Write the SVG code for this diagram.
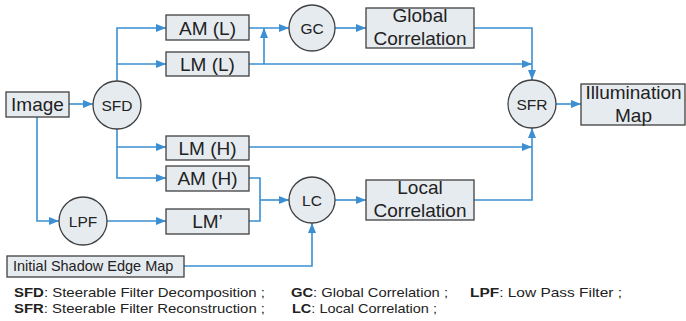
<svg xmlns="http://www.w3.org/2000/svg" width="686" height="321" viewBox="0 0 686 321">
  <style>
    .box { fill: #e6ebf0; stroke: #404040; stroke-width: 1.3; }
    .node { fill: #e6ebf0; stroke: #404040; stroke-width: 1.3; }
    .lbl { font-family: "Liberation Sans", Arial, sans-serif; font-size: 19px; fill: #222; text-anchor: middle; }
    .clbl { font-family: "Liberation Sans", Arial, sans-serif; font-size: 15.5px; fill: #222; text-anchor: middle; }
    .small { font-family: "Liberation Sans", Arial, sans-serif; font-size: 14.5px; fill: #222; }
    .leg { font-family: "Liberation Sans", Arial, sans-serif; font-size: 13px; fill: #222; }
    .leg .b { font-weight: bold; }
    .wire { fill: none; stroke: #3b8fd2; stroke-width: 1.6; }
  </style>
  <defs>
    <marker id="arrow" markerUnits="userSpaceOnUse" markerWidth="10" markerHeight="8" refX="10" refY="4" orient="auto">
      <path d="M0,0 L10,4 L0,8 z" fill="#3b8fd2"/>
    </marker>
  </defs>

  <!-- connectors -->
  <g id="connectors">
    <path class="wire" d="M69,104 H93" marker-end="url(#arrow)"/>
    <path class="wire" d="M117,81 V28 H166" marker-end="url(#arrow)"/>
    <path class="wire" d="M117,64 H166" marker-end="url(#arrow)"/>
    <path class="wire" d="M117,129 V178 H166" marker-end="url(#arrow)"/>
    <path class="wire" d="M117,147 H166" marker-end="url(#arrow)"/>
    <path class="wire" d="M249,28 H289" marker-end="url(#arrow)"/>
    <path class="wire" d="M249,64 H532" marker-end="url(#arrow)"/>
    <path class="wire" d="M264,64 V28" marker-end="url(#arrow)"/>
    <path class="wire" d="M335,28 H366" marker-end="url(#arrow)"/>
    <path class="wire" d="M474,28 H532 V80" marker-end="url(#arrow)"/>
    <path class="wire" d="M556,104 H581" marker-end="url(#arrow)"/>
    <path class="wire" d="M249,147 H532" marker-end="url(#arrow)"/>
    <path class="wire" d="M474,200 H532 V128" marker-end="url(#arrow)"/>
    <path class="wire" d="M249,178 H260 V221 H249"/>
    <path class="wire" d="M260,200 H289" marker-end="url(#arrow)"/>
    <path class="wire" d="M335,200 H366" marker-end="url(#arrow)"/>
    <path class="wire" d="M37,117 V221 H59" marker-end="url(#arrow)"/>
    <path class="wire" d="M107,221 H166" marker-end="url(#arrow)"/>
    <path class="wire" d="M184,266 H312 V223" marker-end="url(#arrow)"/>
  </g>

  <!-- nodes -->
  <g id="image">
    <rect class="box" x="6" y="92" width="63" height="25"/>
    <text class="lbl" x="37.5" y="111">Image</text>
  </g>
  <g id="sfd">
    <circle class="node" cx="117" cy="105" r="24"/>
    <text class="clbl" x="117" y="110.5">SFD</text>
  </g>
  <g id="am-l">
    <rect class="box" x="166" y="15" width="83" height="25"/>
    <text class="lbl" x="207.5" y="34.5">AM (L)</text>
  </g>
  <g id="lm-l">
    <rect class="box" x="166" y="52" width="83" height="24"/>
    <text class="lbl" x="207.5" y="70.5">LM (L)</text>
  </g>
  <g id="gc">
    <circle class="node" cx="312" cy="28" r="23"/>
    <text class="clbl" x="312" y="33.5">GC</text>
  </g>
  <g id="global-correlation">
    <rect class="box" x="366" y="8" width="108" height="40"/>
    <text class="lbl" x="420" y="22">Global</text>
    <text class="lbl" x="420" y="45">Correlation</text>
  </g>
  <g id="sfr">
    <circle class="node" cx="532" cy="104" r="24"/>
    <text class="clbl" x="532" y="109.5">SFR</text>
  </g>
  <g id="illumination-map">
    <rect class="box" x="581" y="84" width="104" height="41"/>
    <text class="lbl" x="633.5" y="99">Illumination</text>
    <text class="lbl" x="633.5" y="122">Map</text>
  </g>
  <g id="lm-h">
    <rect class="box" x="166" y="136" width="83" height="24"/>
    <text class="lbl" x="207.5" y="154.5">LM (H)</text>
  </g>
  <g id="am-h">
    <rect class="box" x="166" y="166" width="83" height="25"/>
    <text class="lbl" x="207.5" y="184.5">AM (H)</text>
  </g>
  <g id="lpf">
    <circle class="node" cx="83" cy="221" r="24"/>
    <text class="clbl" x="83" y="226.5">LPF</text>
  </g>
  <g id="lm-prime">
    <rect class="box" x="166" y="209" width="83" height="25"/>
    <text class="lbl" x="207.5" y="227.5">LM’</text>
  </g>
  <g id="lc">
    <circle class="node" cx="312" cy="200" r="23"/>
    <text class="clbl" x="312" y="205.5">LC</text>
  </g>
  <g id="local-correlation">
    <rect class="box" x="366" y="180" width="108" height="40"/>
    <text class="lbl" x="420" y="194">Local</text>
    <text class="lbl" x="420" y="217">Correlation</text>
  </g>
  <g id="shadow-edge-map">
    <rect class="box" x="7" y="256" width="177" height="21"/>
    <text class="small" x="13" y="271">Initial Shadow Edge Map</text>
  </g>

  <!-- legend -->
  <g id="legend">
    <text class="leg" x="14" y="297" textLength="251" lengthAdjust="spacingAndGlyphs"><tspan class="b">SFD</tspan>: Steerable Filter Decomposition  ;</text>
    <text class="leg" x="291" y="297" textLength="157" lengthAdjust="spacingAndGlyphs"><tspan class="b">GC</tspan>: Global Correlation ;</text>
    <text class="leg" x="470" y="297" textLength="152" lengthAdjust="spacingAndGlyphs"><tspan class="b">LPF</tspan>: Low Pass Filter ;</text>
    <text class="leg" x="14" y="313" textLength="251" lengthAdjust="spacingAndGlyphs"><tspan class="b">SFR</tspan>: Steerable Filter Reconstruction  ;</text>
    <text class="leg" x="292" y="313" textLength="145" lengthAdjust="spacingAndGlyphs"><tspan class="b">LC</tspan>: Local Correlation ;</text>
  </g>
</svg>
